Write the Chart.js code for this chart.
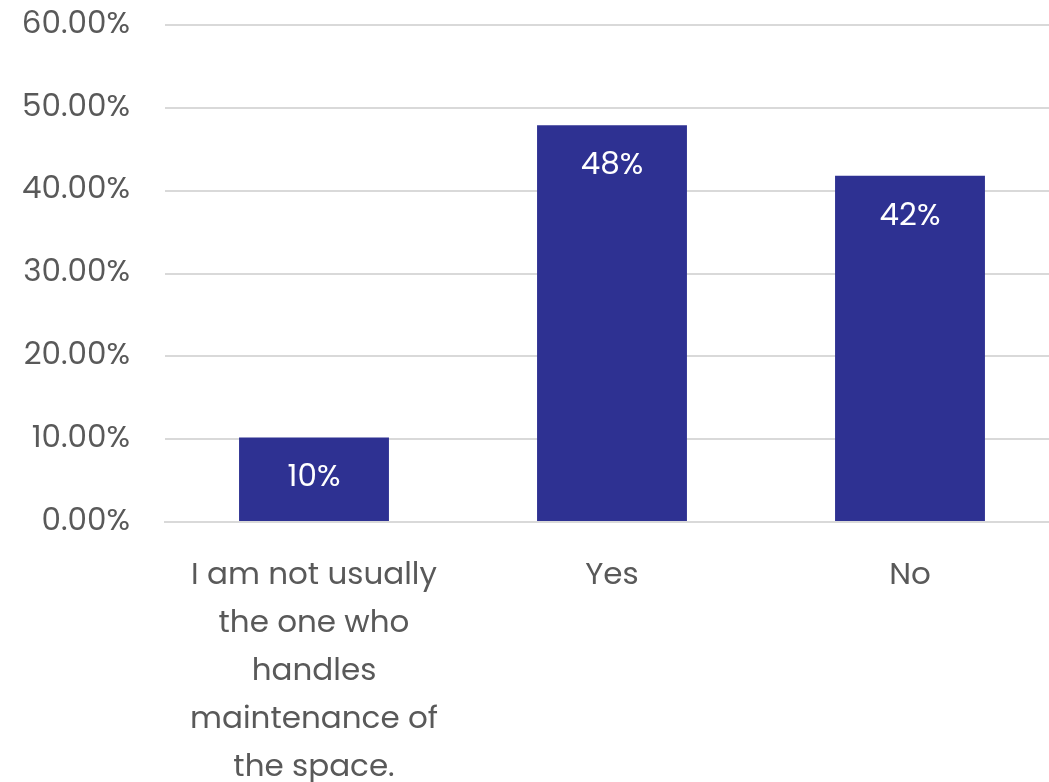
<!DOCTYPE html>
<html>
<head>
<meta charset="utf-8">
<script src="https://cdn.jsdelivr.net/npm/chart.js@4"></script>
<style>
  html, body { margin: 0; padding: 0; background: #fff; overflow: hidden; }
  #wrap { width: 1060px; height: 782px; }
</style>
</head>
<body>
<div id="wrap"><canvas id="chart" width="1060" height="782"></canvas></div>
<script>
// chart data
const categories = [
    ['I am not usually', 'the one who', 'handles', 'maintenance of', 'the space.'],
    'Yes',
    'No'
];
const percentValues = [10.2, 47.9, 41.8];
const yTicks = [0, 10, 20, 30, 40, 50, 60];

const fontFamily = "Poppins, 'Open Sans', sans-serif";

// draws the white % labels inside the top of each bar
const barLabels = {
    id: 'barLabels',
    afterDatasetsDraw(chart) {
        const ctx = chart.ctx;
        const meta = chart.getDatasetMeta(0);
        ctx.save();
        ctx.fillStyle = '#ffffff';
        ctx.font = '31px ' + fontFamily;
        ctx.textAlign = 'center';
        ctx.textBaseline = 'middle';
        meta.data.forEach((bar, i) => {
            ctx.fillText(Math.round(percentValues[i]) + '%', bar.x, bar.y + 41);
        });
        ctx.restore();
    }
};

const ctx = document.getElementById('chart').getContext('2d');
new Chart(ctx, {
    type: 'bar',
    data: {
        labels: categories,
        datasets: [{
            data: percentValues,
            backgroundColor: '#2E3192',
            borderWidth: 0,
            barPercentage: 1,
            categoryPercentage: 0.503
        }]
    },
    options: {
        responsive: false,
        animation: false,
        layout: { padding: { top: 25, right: 1, left: 0, bottom: 0 } },
        plugins: { legend: { display: false }, tooltip: { enabled: false } },
        scales: {
            x: {
                grid: { display: false },
                border: { color: '#d9d9d9', width: 2 },
                ticks: {
                    color: '#595959',
                    font: { family: fontFamily, size: 31, lineHeight: 1.55 },
                    padding: 22,
                    maxRotation: 0,
                    autoSkip: false
                },
                afterFit(scale) { scale.height = 260; }
            },
            y: {
                min: 0,
                max: 60,
                afterBuildTicks(scale) { scale.ticks = yTicks.map(v => ({ value: v })); },
                grid: { color: '#d9d9d9', lineWidth: 2, drawTicks: true, tickLength: 35, tickColor: 'rgba(0,0,0,0)' },
                border: { display: false },
                ticks: {
                    color: '#595959',
                    font: { family: fontFamily, size: 31 },
                    padding: 0,
                    callback: v => v.toFixed(2) + '%'
                },
                afterFit(scale) { scale.width = 165; }
            }
        }
    },
    plugins: [barLabels]
});
</script>
</body>
</html>
